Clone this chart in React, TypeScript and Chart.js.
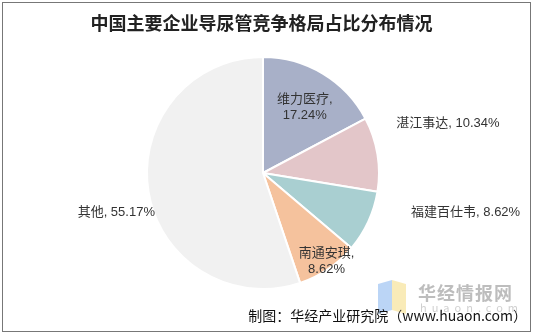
import React, { useEffect, useRef } from "react";
import { Chart, registerables } from "chart.js";

Chart.register(...registerables);

const title = "中国主要企业导尿管竞争格局占比分布情况";
const categories = ["维力医疗", "湛江事达", "福建百仕韦", "南通安琪", "其他"];
const shares = [17.24, 10.34, 8.62, 8.62, 55.17];
const sliceColors = ["#A8B0C8", "#E3C6C9", "#A9CFD1", "#F5C29D", "#F1F1F1"];
const source = "制图：华经产业研究院（www.huaon.com）";

// label placement: [radius factor, angle offset (deg), two lines?]
const labelPlacement: [number, number, boolean][] = [
  [0.67, 1.5, true],
  [1.65, -5.7, false],
  [1.78, -13.7, false],
  [0.94, -1.5, true],
  [1.31, -5.8, false],
];

const labelPlugin = {
  id: "sliceLabels",
  afterDatasetsDraw(chart: any) {
    const ctx = chart.ctx;
    const meta = chart.getDatasetMeta(0);
    ctx.save();
    ctx.font = '13px "Liberation Sans", "Noto Sans CJK SC", sans-serif';
    ctx.fillStyle = "#333";
    ctx.textAlign = "center";
    ctx.textBaseline = "middle";
    meta.data.forEach((arc: any, i: number) => {
      const p = arc.getProps(["x", "y", "startAngle", "endAngle", "outerRadius"], true);
      const [f, dDeg, twoLines] = labelPlacement[i];
      const mid = (p.startAngle + p.endAngle) / 2 + (dDeg * Math.PI) / 180;
      const x = p.x + Math.cos(mid) * p.outerRadius * f;
      const y = p.y + Math.sin(mid) * p.outerRadius * f;
      const pct = shares[i].toFixed(2) + "%";
      if (twoLines) {
        ctx.fillText(categories[i] + ",", x, y - 8);
        ctx.fillText(pct, x, y + 8);
      } else {
        ctx.fillText(categories[i] + ", " + pct, x, y);
      }
    });
    ctx.restore();
  },
};

export default function App() {
  const ref = useRef<HTMLCanvasElement | null>(null);
  useEffect(() => {
    document.body.style.margin = "0";
    const chart = new Chart(ref.current!, {
      type: "pie",
      data: {
        labels: categories,
        datasets: [
          {
            data: shares,
            backgroundColor: sliceColors,
            borderColor: "#ffffff",
            borderWidth: 2,
          },
        ],
      },
      options: {
        animation: false,
        responsive: false,
        layout: { padding: { top: 56, bottom: 45, left: 146, right: 153 } },
        plugins: { legend: { display: false }, tooltip: { enabled: false }, title: { display: false } },
      },
      plugins: [labelPlugin],
    });
    return () => chart.destroy();
  }, []);

  return (
    <div style={{ position: "relative", width: 533, height: 335, background: "#fff", fontFamily: '"Noto Sans CJK SC", sans-serif' }}>
      <div style={{ position: "absolute", left: 2, top: 2, width: 527, height: 328, border: "1px solid #777" }} />
      <canvas ref={ref} width={533} height={335} style={{ position: "absolute", left: 0, top: 0 }} />
      <div style={{ position: "absolute", left: 0, width: 523, top: 10, textAlign: "center", fontSize: 18, fontWeight: 700, color: "#222", lineHeight: "24px" }}>
        {title}
      </div>
      <div style={{ position: "absolute", left: 378, top: 282, width: 14, height: 30, background: "#9EC3F2", opacity: 0.7, transform: "skewY(-15deg)" }} />
      <div style={{ position: "absolute", left: 392, top: 282, width: 14, height: 30, background: "#F7E39A", opacity: 0.7, transform: "skewY(15deg)" }} />
      <div style={{ position: "absolute", left: 418, top: 280, fontSize: 18, fontWeight: 700, color: "#BDBDBD", lineHeight: "24px", letterSpacing: 1 }}>
        华经情报网
      </div>
      <div style={{ position: "absolute", left: 420, top: 300, fontSize: 11, color: "#D0D0D0", lineHeight: "14px", letterSpacing: 5 }}>
        huaon.com
      </div>
      <div style={{ position: "absolute", right: 6, top: 305, fontSize: 14, color: "#111", lineHeight: "20px", whiteSpace: "nowrap" }}>
        {source}
      </div>
    </div>
  );
}
